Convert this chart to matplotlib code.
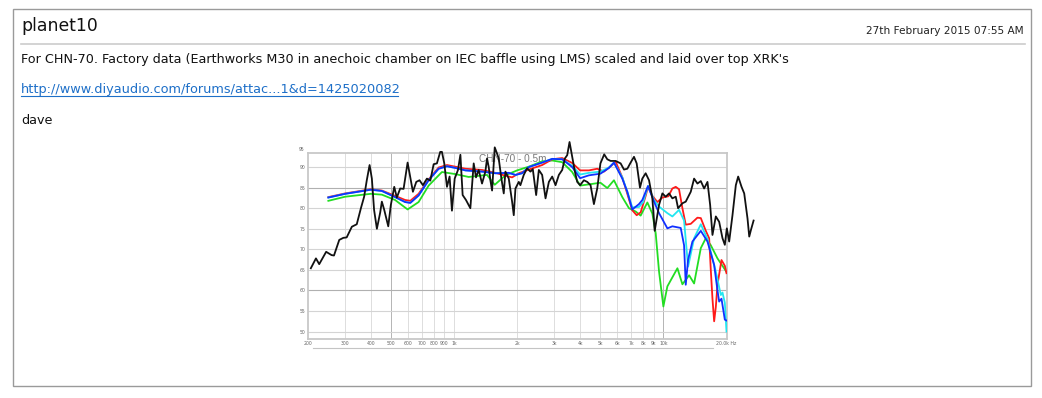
import matplotlib
matplotlib.use("Agg")
import matplotlib.pyplot as plt
from matplotlib.lines import Line2D
from matplotlib.patches import Rectangle

W, H = 1042, 398

# forum post text
user = "planet10"
date = "27th February 2015 07:55 AM"
body = ("For CHN-70. Factory data (Earthworks M30 in anechoic chamber on IEC baffle "
        "using LMS) scaled and laid over top XRK's")
link = "http://www.diyaudio.com/forums/attac...1&d=1425020082"
sig = "dave"
chart_title = "CHN-70 - 0.5m"

# axis ticks
x_ticks = [200, 300, 400, 500, 600, 700, 800, 900, 1000, 2000, 3000, 4000,
           5000, 6000, 7000, 8000, 9000, 10000, 20000]
x_labels = ["200", "300", "400", "500", "600", "700", "800", "900", "1k", "2k",
            "3k", "4k", "5k", "6k", "7k", "8k", "9k", "10k", "20.0k Hz"]
y_ticks = [50, 55, 60, 65, 70, 75, 80, 85, 90]

# factory data overlay (black)
black_f = [207, 219, 227, 245, 260, 267, 283, 296, 307, 325, 343, 359, 372, 383,
           395, 405, 415, 428, 444, 452, 464, 485, 499, 518, 533, 553, 574, 600,
           622, 636, 660, 684, 710, 742, 770, 799, 828, 859, 875, 898, 925, 952,
           977, 1007, 1044, 1072, 1099, 1140, 1196, 1241, 1273, 1311, 1360, 1411,
           1437, 1464, 1491, 1519, 1564, 1604, 1634, 1683, 1727, 1759, 1825, 1893,
           1928, 1964, 2037, 2074, 2152, 2232, 2316, 2377, 2466, 2540, 2634, 2734,
           2836, 2942, 3052, 3166, 3284, 3382, 3470, 3560, 3666, 3776, 3874, 4000,
           4169, 4326, 4486, 4654, 4828, 5000, 5212, 5392, 5594, 5910, 6244, 6478,
           6720, 6970, 7232, 7448, 7724, 7926, 8222, 8532, 8850, 9080, 9526, 9882,
           10250, 10634, 11030, 11446, 11742, 12316, 12776, 13500, 14006, 14528,
           15078, 15638, 16224, 16708, 17140, 17784, 18448, 19140, 19636, 20074,
           20598, 21360, 22160, 22740, 23600, 24300, 25200, 25680, 26160, 26940]
black_db = [65.4, 67.8, 66.4, 69.4, 68.6, 68.5, 72.3, 72.8, 72.9, 75.5, 76.1, 80.0,
            82.8, 86.8, 90.5, 87.2, 79.6, 75.0, 79.0, 81.6, 79.6, 75.6, 80.8, 85.2,
            82.6, 84.8, 84.7, 91.1, 86.8, 84.0, 86.4, 86.8, 85.6, 87.2, 86.7, 90.7,
            90.9, 93.7, 93.7, 90.9, 85.2, 87.7, 79.4, 87.2, 89.3, 93.0, 83.2, 82.0,
            80.0, 90.9, 87.5, 89.3, 86.0, 88.9, 92.1, 90.0, 86.8, 84.3, 94.8, 93.3,
            92.1, 87.2, 83.6, 88.9, 87.2, 81.6, 78.3, 84.8, 86.4, 85.6, 88.1, 89.7,
            88.9, 89.5, 83.2, 89.3, 88.1, 82.4, 86.4, 87.7, 85.6, 88.1, 89.3, 92.1,
            92.9, 96.1, 92.5, 88.9, 86.4, 85.6, 86.8, 86.4, 85.6, 81.0, 84.8, 90.9,
            93.1, 91.9, 91.5, 91.5, 90.9, 89.4, 89.6, 91.1, 92.5, 90.9, 85.0, 87.2,
            88.5, 86.8, 82.4, 74.5, 80.8, 83.6, 82.8, 83.6, 82.4, 82.8, 80.0, 81.2,
            81.6, 84.0, 87.2, 86.0, 86.6, 84.8, 86.4, 80.8, 73.5, 78.0, 76.7, 72.7,
            71.1, 75.1, 71.9, 78.3, 85.6, 87.7, 85.2, 83.6, 77.5, 73.1, 74.7, 77.0]

# XRK measurements
red_f = [251, 302, 400, 452, 523, 584, 618, 677, 756, 844, 925, 1014, 1132, 1360,
         1576, 1759, 1893, 2037, 2274, 2634, 2942, 3284, 3666, 4000, 4406, 4828,
         5196, 5594, 5910, 6360, 6720, 7098, 7448, 7782, 8222, 8438, 8850, 9352,
         9882, 10556, 11030, 11446, 11870, 12316, 12776, 13500, 14528, 15078,
         15930, 16526, 16828, 17140, 17460, 17784, 18112, 18928, 19636, 20000]
red_db = [82.7, 83.6, 84.6, 84.3, 83.0, 82.0, 81.8, 83.5, 87.0, 89.9, 90.5, 90.1,
          89.6, 89.3, 88.6, 87.9, 87.5, 88.5, 89.4, 90.5, 91.9, 92.2, 91.0, 89.2,
          89.2, 89.6, 88.9, 90.2, 91.3, 87.5, 83.5, 79.5, 78.3, 79.0, 83.0, 85.2,
          83.0, 81.5, 82.6, 82.9, 84.8, 85.2, 84.6, 80.0, 76.0, 76.2, 77.7, 77.6,
          74.5, 72.7, 65.0, 58.0, 52.5, 56.0, 61.4, 67.4, 66.0, 64.2]

blue_f = [251, 302, 400, 452, 523, 584, 618, 677, 756, 844, 925, 1014, 1132, 1360,
          1576, 1825, 1964, 2112, 2274, 2634, 2942, 3284, 3666, 4000, 4406, 5000,
          5492, 5802, 6360, 6720, 7098, 7640, 7926, 8438, 9014, 9526, 10440, 11030,
          12092, 12542, 12776, 13110, 13750, 15078, 16224, 17460, 18112, 18448,
          18928, 19636, 20000]
blue_db = [82.6, 83.5, 84.5, 84.2, 82.7, 81.5, 81.3, 83.1, 86.8, 89.6, 90.2, 89.8,
           89.2, 88.9, 88.5, 88.6, 88.1, 88.5, 90.0, 91.1, 92.0, 91.9, 90.0, 87.3,
           88.0, 88.4, 89.8, 91.1, 87.2, 84.0, 79.7, 81.0, 82.0, 85.4, 81.6, 78.8,
           75.1, 75.6, 75.2, 71.0, 61.4, 67.5, 71.9, 74.5, 71.9, 66.2, 60.0, 57.3,
           58.0, 52.9, 52.7]

cyan_f = [251, 302, 400, 452, 523, 584, 618, 677, 756, 844, 925, 1014, 1132, 1360,
          1576, 1825, 1964, 2112, 2274, 2634, 2942, 3284, 3666, 4000, 4406, 5000,
          5492, 5802, 6360, 6720, 7098, 7640, 8000, 8438, 9014, 9526, 10440, 11030,
          11870, 12542, 13110, 14006, 15078, 16224, 17784, 18790, 19140, 19636,
          20000]
cyan_db = [82.6, 83.5, 84.5, 84.2, 82.7, 81.5, 81.3, 83.1, 86.8, 89.6, 90.2, 89.8,
           89.2, 88.9, 88.5, 88.6, 88.1, 88.5, 90.0, 91.1, 92.0, 91.9, 90.3, 88.2,
           88.6, 88.9, 89.9, 91.1, 87.5, 84.0, 80.2, 80.3, 81.5, 85.4, 82.0, 80.4,
           78.8, 78.0, 79.6, 77.0, 65.8, 72.7, 76.1, 72.5, 64.6, 58.9, 59.5, 57.0,
           50.0]

green_f = [251, 302, 400, 452, 523, 600, 677, 756, 875, 1014, 1174, 1437, 1564,
           1759, 2000, 2274, 2634, 2942, 3284, 3666, 4000, 4406, 5000, 5392, 5802,
           6360, 6844, 7366, 7782, 8376, 8850, 9182, 9526, 9990, 10440, 11658,
           12316, 13256, 14006, 15078, 15930, 16828, 18112, 20074]
green_db = [81.8, 82.8, 83.5, 83.3, 82.0, 79.7, 81.5, 85.5, 88.8, 88.3, 87.6, 88.1,
            85.7, 88.0, 89.2, 90.1, 91.4, 91.6, 91.2, 88.8, 85.5, 85.8, 86.2, 84.9,
            86.8, 82.7, 80.0, 79.2, 78.2, 81.4, 78.7, 73.9, 64.6, 56.1, 61.0, 65.4,
            61.5, 63.7, 61.7, 70.3, 72.7, 71.0, 67.8, 64.4]

plt.rcParams["font.family"] = ["DejaVu Sans"]


def fx(x):
    return x / W


def fy(y):
    return 1 - y / H


fig = plt.figure(figsize=(W / 100, H / 100), dpi=100)
fig.patch.set_facecolor("white")

# post frame and header rule
fig.add_artist(Rectangle((fx(13), fy(386)), fx(1031) - fx(13), fy(9) - fy(386),
                         transform=fig.transFigure, fill=False,
                         edgecolor="#9a9a9a", linewidth=1.0))
fig.add_artist(Line2D([fx(21), fx(1025)], [fy(43.5), fy(43.5)],
                      color="#cccccc", linewidth=1.2))

fig.text(fx(21), fy(26), user, fontsize=12.4, color="#111111", va="center")
fig.text(fx(1024), fy(31.5), date, fontsize=7.6, color="#222222",
         va="center", ha="right")
fig.text(fx(21), fy(60), body, fontsize=9.15, color="#111111", va="center")
fig.text(fx(21), fy(90), link, fontsize=9.25, color="#1d6fc8", va="center")
fig.add_artist(Line2D([fx(21), fx(398)], [fy(96), fy(96)],
                      color="#1d6fc8", linewidth=0.8))
fig.text(fx(21), fy(121), sig, fontsize=9.15, color="#111111", va="center")

# the chart
ax = fig.add_axes([fx(307.7), fy(339), fx(726.5) - fx(307.7), fy(152.7) - fy(339)])
ax.set_xscale("log")
ax.set_xlim(200, 20000)
ax.set_ylim(48.2, 93.5)

for f in x_ticks[1:-1]:
    c = "#b4b4b4" if f in (500, 10000) else "#dddddd"
    ax.axvline(f, color=c, linewidth=0.7, zorder=0)
for v in y_ticks:
    c = "#b0b0b0" if v in (60, 85) else "#d4d4d4"
    ax.axhline(v, color=c, linewidth=0.8, zorder=0)

ax.set_xticks(x_ticks)
ax.set_xticklabels(x_labels)
ax.minorticks_off()
ax.set_yticks(y_ticks)
ax.tick_params(length=0, labelsize=3.3, labelcolor="#666666", pad=1.5)
ax.text(-0.008, 94.3, "95", transform=ax.get_yaxis_transform(), fontsize=3.3,
        color="#666666", ha="right", va="center", clip_on=False)
for s in ax.spines.values():
    s.set_color("#c8c8c8")
    s.set_linewidth(1.3)

ax.plot(green_f, green_db, color="#22dd22", linewidth=1.3, zorder=2)
ax.plot(red_f, red_db, color="#ff1a1a", linewidth=1.3, zorder=3)
ax.plot(cyan_f, cyan_db, color="#22e6f0", linewidth=1.3, zorder=4)
ax.plot(blue_f, blue_db, color="#1030ff", linewidth=1.3, zorder=5)
ax.plot(black_f, black_db, color="#111111", linewidth=1.3, zorder=6, clip_on=False)

ax.text(0.49, 0.966, chart_title, transform=ax.transAxes, fontsize=7.2,
        family="Liberation Sans", color="#7a7a7a", ha="center", va="center",
        zorder=1)

fig.add_artist(Line2D([fx(313), fx(713)], [fy(348.3), fy(348.3)],
                      color="#c4c4c4", linewidth=0.8))

fig.savefig("out.png", dpi=100)
